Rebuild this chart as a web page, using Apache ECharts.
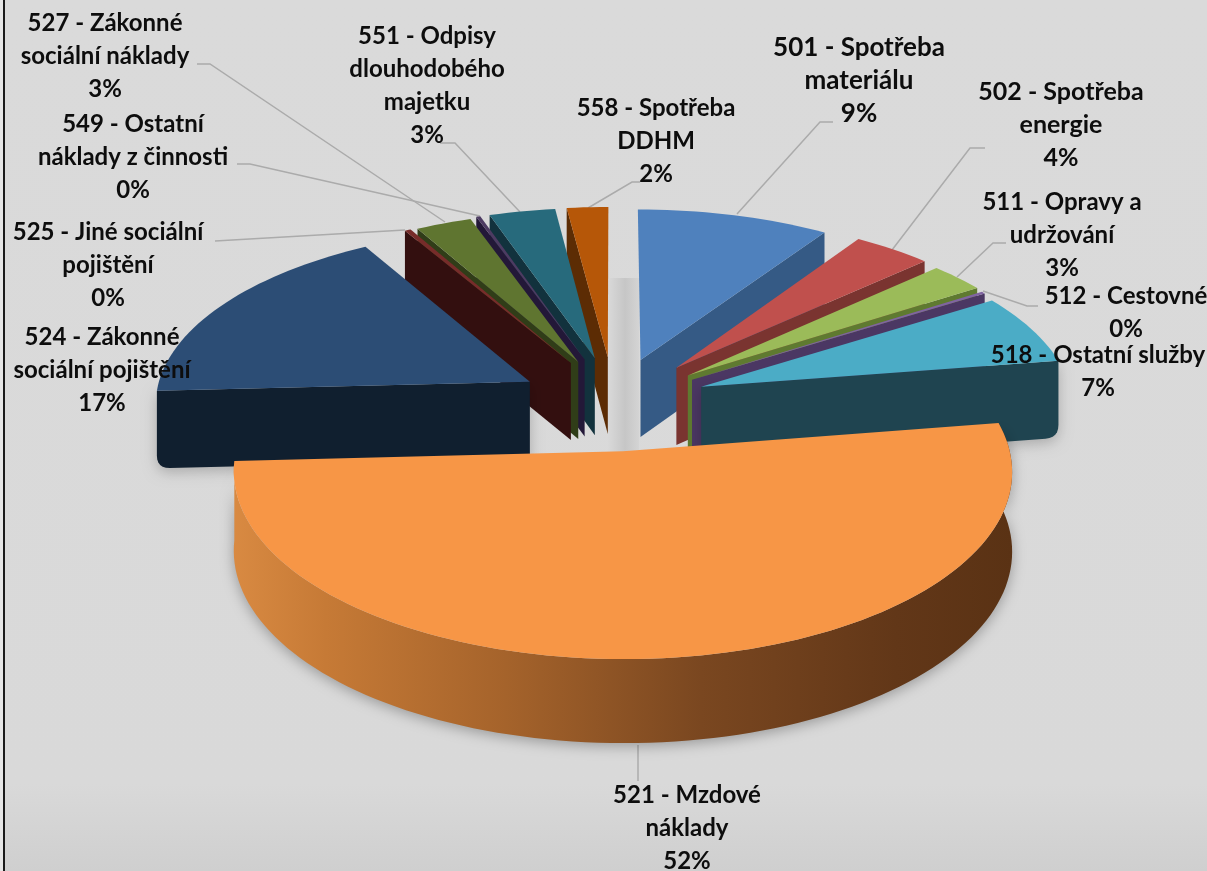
<!DOCTYPE html>
<html><head><meta charset="utf-8">
<style>html,body{margin:0;padding:0;background:#e6e6e6}#c{width:1207px;height:871px}</style>
<script src="https://cdn.jsdelivr.net/npm/echarts@6/dist/echarts.min.js"></script>
</head><body><div id="c"></div>
<script>
// ---- data ----
const categories = ['501 - Spotřeba\nmateriálu','502 - Spotřeba\nenergie','511 - Opravy a\nudržování','512 - Cestovné','518 - Ostatní služby','521 - Mzdové\nnáklady','524 - Zákonné\nsociální pojištění','525 - Jiné sociální\npojištění','527 - Zákonné\nsociální náklady','549 - Ostatní\nnáklady z činnosti','551 - Odpisy\ndlouhodobého\nmajetku','558 - Spotřeba\nDDHM'];
const values = [9.3,3.8,2.7,0.2,6.5,51.6,17.4,0.3,2.7,0.2,3.2,2.0];
// ---- style / layout ----
const topColors  = ['#4F81BD','#C0504D','#9BBB59','#8064A2','#4BACC6','#F79646','#2C4D75','#772C2A','#5F7530','#4D3B62','#276A7C','#B65708'];
const wallColors = ['#355a85','#7a3430','#5f7a30','#4b3763','#1f4450','#6a3a18','#101f2f','#330f0f','#303d18','#231838','#12323d','#5c2c04'];
const explode = [.27,.27,.26,.25,.25,.27,.27,.27,.27,.27,.27,.27];
const radius  = [1,1,1,1,.99,1,1,1,1,1,1,1];
const nudgeX  = [-2,-2,-2,0,0,-2,4,6,5,3,3,0];
const nudgeY  = [1,0,0,0,-1,0,1,0,1,0,0,0];
const cornerR = [0,0,0,0,13,0,13,0,0,0,0,0];
const drawOrder = [0,1,2,3,4,11,10,9,8,7,6,5];
const labelPos = [[859,81],[1061,125],[1062,235],[1126,313],[1098,372],[687,828],[102,370],[108,265],[105,56],[133,157],[427,86],[656,141]];
const labelSize = [26,25,24,24,24,24,24,24,24,24,24,24];
const leaders = [
 [[737,214],[820,122],[833,122]],[[892,250],[970,148],[985,148]],[[957,277],[993,243],[1006,243]],
 [[983,291],[1027,306],[1038,306]],null,[[638,745],[638,781]],null,
 [[405,230],[215,241]],[[445,222],[210,64],[197,64]],[[480,216],[250,164],[237,164]],
 [[520,212],[455,143],[440,143]],[[588,208],[632,182],[640,182]]];
const C = {x:614,y:403,a:376,b:175,p:.105,h:78};

const total = values.reduce((s,v)=>s+v,0);
let acc = 0;
const angles = values.map(v=>{const s=acc/total*2*Math.PI;acc+=v;return [s,acc/total*2*Math.PI];});
function proj(u,v,z,i){const w=1/(1-C.p*v);return [C.x+nudgeX[i]+C.a*u*w, C.y+nudgeY[i]+C.b*v*w+z*C.h*(1+(w-1)*.5)];}
function slicePoints(i){
  const [s,e]=angles[i],m=(s+e)/2,ex=explode[i],r=radius[i];
  const ou=Math.sin(m)*ex,ov=-Math.cos(m)*ex;
  const n=Math.max(3,Math.ceil((e-s)/0.03)),arc=[];
  for(let k=0;k<=n;k++){const t=s+(e-s)*k/n;arc.push([ou+Math.sin(t)*r,ov-Math.cos(t)*r]);}
  return {apex:[ou,ov],arc};
}
// wall quad: apex-top, rim-top, rim-bottom (optionally rounded), apex-bottom
function wallPoints(at,rt,rb,ab,cr){
  if(!cr) return [at,rt,rb,ab];
  const toward=(a,b,d)=>{const L=Math.hypot(b[0]-a[0],b[1]-a[1]);return [a[0]+(b[0]-a[0])*d/L,a[1]+(b[1]-a[1])*d/L];};
  const p0=toward(rb,rt,cr),p2=toward(rb,ab,cr),curve=[];
  for(let k=0;k<=6;k++){const t=k/6,q=1-t;curve.push([q*q*p0[0]+2*q*t*rb[0]+t*t*p2[0],q*q*p0[1]+2*q*t*rb[1]+t*t*p2[1]]);}
  return [at,rt,...curve,ab];
}
function renderSlice(params){
  const i=drawOrder[params.dataIndex],g=slicePoints(i),kids=[];
  const at=proj(g.apex[0],g.apex[1],0,i),ab=proj(g.apex[0],g.apex[1],1,i);
  const rimT=g.arc.map(p=>proj(p[0],p[1],0,i)),rimB=g.arc.map(p=>proj(p[0],p[1],1,i));
  const wall=wallColors[i];
  const [s,e]=angles[i];
  const shadow=cornerR[i]?{shadowBlur:14,shadowColor:'rgba(0,0,0,.22)',shadowOffsetY:4}:{};
  if(e<Math.PI/2+.01){
    const l=rimT.length-1;
    kids.push({type:'polygon',shape:{points:wallPoints(at,rimT[l],rimB[l],ab,cornerR[i])},style:{fill:wall,...shadow}});
  } else if(s>Math.PI){
    kids.push({type:'polygon',shape:{points:wallPoints(at,rimT[0],rimB[0],ab,cornerR[i])},style:{fill:wall,...shadow}});
  }
  if(i===5){
    const pts=[...rimT,...rimB.slice().reverse()];
    kids.push({type:'polygon',shape:{points:pts},style:{
      fill:{type:'linear',x:232,y:0,x2:1013,y2:0,global:true,colorStops:[
        {offset:0,color:'#d98a42'},{offset:.12,color:'#c67a36'},{offset:.35,color:'#a5632b'},{offset:.6,color:'#7a4720'},{offset:.85,color:'#623718'},{offset:1,color:'#5a3214'}]},
      shadowBlur:14,shadowColor:'rgba(0,0,0,.3)',shadowOffsetY:3}});
  }
  kids.push({type:'polygon',shape:{points:[at,...rimT]},style:{fill:topColors[i]}});
  return {type:'group',children:kids};
}
function renderLeader(params){
  const pts=leaders[params.dataIndex];
  return pts?{type:'polyline',shape:{points:pts},style:{stroke:'#ababab',lineWidth:1.5,fill:null}}:null;
}
function renderLabel(params){
  const i=params.dataIndex;
  return {type:'text',x:labelPos[i][0],y:labelPos[i][1],style:{text:categories[i]+'\n'+Math.round(values[i])+'%',align:'center',verticalAlign:'middle',font:'bold '+labelSize[i]+'px Lato',lineHeight:33,fill:'#0d0d0d'}};
}
const chart=echarts.init(document.getElementById('c'),null,{renderer:'canvas'});
const rows=values.map((v,i)=>[i,v]);
chart.setOption({
  animation:false,
  backgroundColor:'#e6e6e6',
  graphic:[
    {type:'rect',z:0,shape:{x:5,y:0,width:1202,height:871},style:{fill:{type:'linear',x:0,y:0,x2:0,y2:1,colorStops:[{offset:0,color:'#dadada'},{offset:.9,color:'#d9d9d9'},{offset:1,color:'#cfcfcf'}]}}},
    {type:'rect',z:0,shape:{x:3,y:0,width:2,height:871},style:{fill:'#1a1a1a'}},
    {type:'rect',z:0,shape:{x:608,y:278,width:31,height:175},style:{fill:{type:'linear',x:0,y:0,x2:1,y2:0,colorStops:[{offset:0,color:'#d9d9d9'},{offset:.55,color:'#c6c6c6'},{offset:1,color:'#d4d4d4'}]}}}
  ],
  series:[
    {type:'custom',coordinateSystem:'none',silent:true,z:3,renderItem:renderLeader,data:rows},
    {type:'custom',coordinateSystem:'none',silent:true,z:4,renderItem:renderSlice,data:drawOrder.map(i=>[i,values[i]])},
    {type:'custom',coordinateSystem:'none',silent:true,z:5,renderItem:renderLabel,data:rows}
  ]
});
</script></body></html>
